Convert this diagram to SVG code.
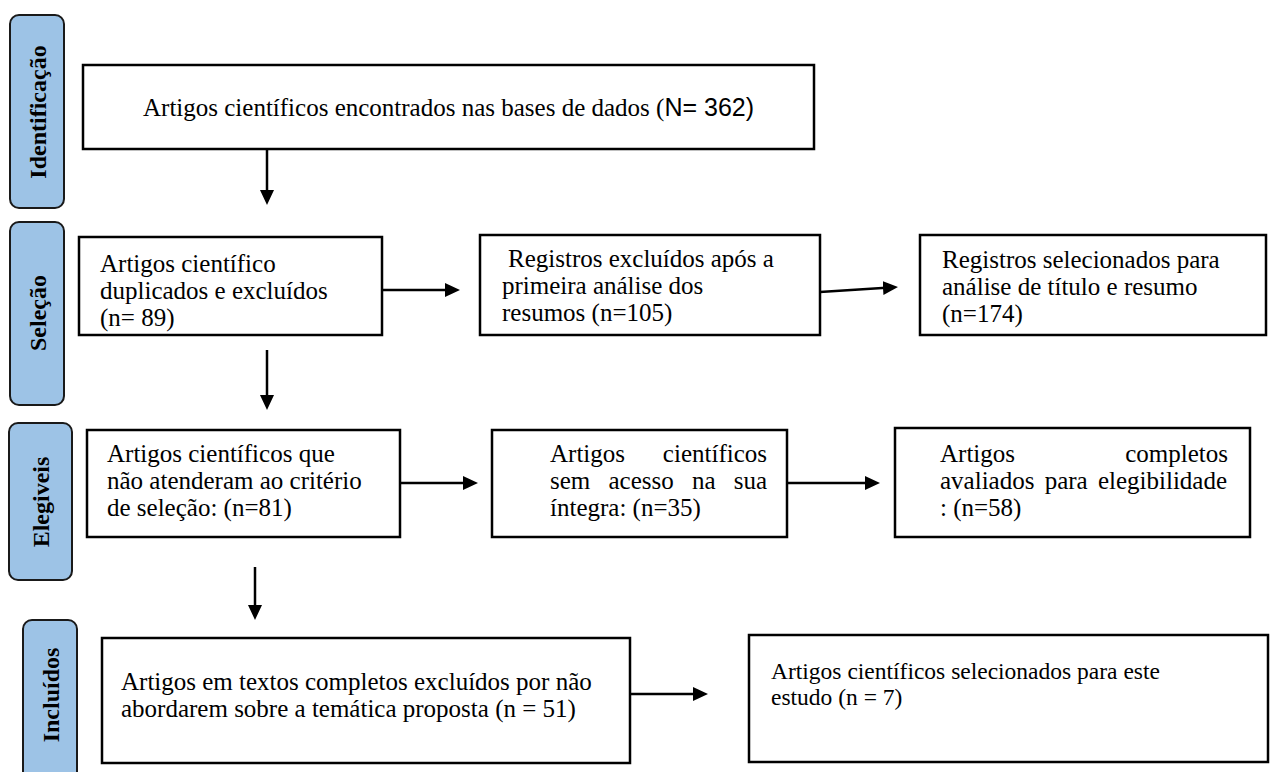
<svg xmlns="http://www.w3.org/2000/svg" width="1272" height="772" viewBox="0 0 1272 772">
<defs>
<marker id="ah" viewBox="0 0 15 14" refX="7" refY="7" markerWidth="15" markerHeight="14" markerUnits="userSpaceOnUse" orient="auto">
<path d="M0,0 L15,7 L0,14 Z" fill="#000"/>
</marker>
<style>
.lbl{fill:#9DC3E6;stroke:#1a1a1a;stroke-width:2}
.lt{font-family:"Liberation Serif","Times New Roman",serif;font-weight:bold;font-size:24px;fill:#000;text-anchor:middle}
.box{fill:#fff;stroke:#000;stroke-width:2.5}
.t{font-family:"Liberation Serif","Times New Roman",serif;font-size:25px;fill:#000}
.s{font-family:"Liberation Sans",Arial,sans-serif}
.c{stroke:#000;stroke-width:2.5;fill:none;marker-end:url(#ah)}
</style>
</defs>
<rect width="1272" height="772" fill="#fff"/>

<g id="label-identificacao">
<rect class="lbl" x="10" y="15" width="54" height="193" rx="9"/>
<text class="lt" transform="translate(37,112) rotate(-90)" y="9">Identificação</text>
</g>
<g id="label-selecao">
<rect class="lbl" x="10" y="222" width="54" height="183" rx="9"/>
<text class="lt" transform="translate(37,313) rotate(-90)" y="9">Seleção</text>
</g>
<g id="label-elegiveis">
<rect class="lbl" x="9" y="423" width="63" height="157" rx="9"/>
<text class="lt" transform="translate(40,502) rotate(-90)" y="9">Elegiveis</text>
</g>
<g id="label-incluidos">
<rect class="lbl" x="23" y="620" width="54" height="170" rx="9"/>
<text class="lt" transform="translate(50,695) rotate(-90)" y="9">Incluídos</text>
</g>

<g id="n-encontrados">
<rect class="box" x="83" y="65" width="731" height="84"/>
<text class="t" x="143" y="116">Artigos científicos encontrados nas bases de dados (<tspan class="s">N= 362)</tspan></text>
</g>

<g id="n-duplicados">
<rect class="box" x="79" y="237" width="303" height="98"/>
<text class="t" x="100"><tspan x="100" y="272">Artigos científico</tspan><tspan x="100" y="299">duplicados e excluídos</tspan><tspan x="100" y="326">(n= 89)</tspan></text>
</g>
<g id="n-excluidos-resumos">
<rect class="box" x="480" y="235" width="340" height="100"/>
<text class="t"><tspan x="508" y="267">Registros excluídos após a</tspan><tspan x="502" y="294">primeira análise dos</tspan><tspan x="502" y="321">resumos (n=105)</tspan></text>
</g>
<g id="n-selecionados-titulo">
<rect class="box" x="920" y="235" width="346" height="100"/>
<text class="t"><tspan x="942" y="268">Registros selecionados para</tspan><tspan x="942" y="295">análise de título e resumo</tspan><tspan x="942" y="322">(n=174)</tspan></text>
</g>

<g id="n-nao-atenderam">
<rect class="box" x="87" y="430" width="313" height="107"/>
<text class="t"><tspan x="107" y="462">Artigos científicos que</tspan><tspan x="107" y="489">não atenderam ao critério</tspan><tspan x="107" y="516">de seleção: (n=81)</tspan></text>
</g>
<g id="n-sem-acesso">
<rect class="box" x="492" y="430" width="295" height="107"/>
<text class="t"><tspan x="550" y="462">Artigos</tspan><tspan x="767" y="462" text-anchor="end">científicos</tspan><tspan x="550" y="489">sem</tspan><tspan x="608.5" y="489">acesso</tspan><tspan x="692" y="489">na</tspan><tspan x="767" y="489" text-anchor="end">sua</tspan><tspan x="550" y="516">íntegra: (n=35)</tspan></text>
</g>
<g id="n-avaliados">
<rect class="box" x="895" y="428" width="355" height="109"/>
<text class="t"><tspan x="940" y="462">Artigos</tspan><tspan x="1228" y="462" text-anchor="end">completos</tspan><tspan x="940" y="489" word-spacing="4">avaliados para elegibilidade</tspan><tspan x="940" y="516">: (n=58)</tspan></text>
</g>

<g id="n-excluidos-tematica">
<rect class="box" x="102" y="638" width="528" height="125"/>
<text class="t"><tspan x="121" y="690">Artigos em textos completos excluídos por não</tspan><tspan x="121" y="717">abordarem sobre a temática proposta (n = 51)</tspan></text>
</g>
<g id="n-incluidos">
<rect class="box" x="749" y="635" width="519" height="127"/>
<text class="t" style="font-size:23.5px"><tspan x="771" y="679">Artigos científicos selecionados para este</tspan><tspan x="771" y="705">estudo (n = 7)</tspan></text>
</g>

<g id="connectors">
<line class="c" x1="267" y1="149" x2="267" y2="197"/>
<line class="c" x1="382" y1="290" x2="452" y2="290"/>
<line class="c" x1="820" y1="292" x2="890" y2="287.5"/>
<line class="c" x1="267" y1="350" x2="267" y2="402"/>
<line class="c" x1="400" y1="483" x2="470" y2="483"/>
<line class="c" x1="787" y1="483" x2="872" y2="483"/>
<line class="c" x1="255" y1="567" x2="255" y2="612"/>
<line class="c" x1="630" y1="694" x2="700" y2="694"/>
</g>
</svg>
